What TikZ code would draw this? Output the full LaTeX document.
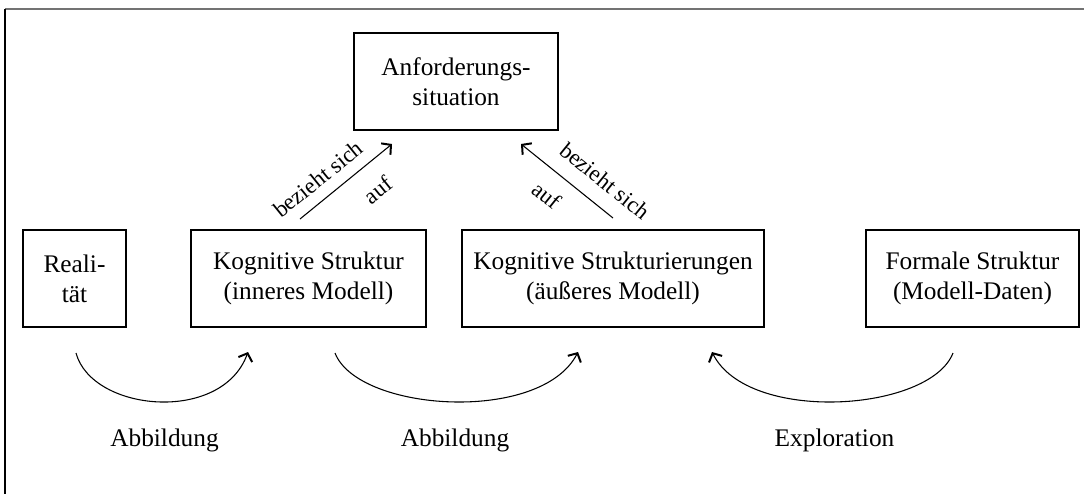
\documentclass[tikz,border=0pt]{standalone}
\usepackage{fontspec}
\setmainfont{Liberation Serif}
\usetikzlibrary{arrows.meta}
\newcommand{\boxfont}{\fontsize{19}{22.5}\selectfont}
\newcommand{\lblfont}{\fontsize{17}{20}\selectfont}
\begin{document}
\begin{tikzpicture}[x=0.75pt,y=-0.75pt,
  box/.style={draw, line width=0.9pt, inner sep=0pt, minimum height=72.75pt,
              align=center, font=\boxfont},
  conn/.style={line width=0.8pt, -{Straight Barb[length=5pt,width=11pt,line width=1.5pt]}},
  lbl/.style={inner sep=0pt, font=\lblfont},
  caption/.style={inner sep=0pt, anchor=base, font=\boxfont}]
\useasboundingbox (0,0) rectangle (1084,494);

% frame edges
\draw[line width=1.5pt, black!55] (5,9) -- (1084,9);
\draw[line width=1.2pt] (5,9) -- (5,494);

% boxes
\node[box, minimum width=153pt]    (anf)  at (456,81.5)   {Anforderungs-\\situation};
\node[box, minimum width=77.25pt]  (real) at (74.5,278.5) {Reali-\\tät};
\node[box, minimum width=176.25pt] (kog)  at (308.5,278.5){Kognitive Struktur\\(inneres Modell)};
\node[box, minimum width=226.5pt]  (kogs) at (613,278.5)  {Kognitive Strukturierungen\\(äußeres Modell)};
\node[box, minimum width=159.75pt] (form) at (972.5,278.5){Formale Struktur\\(Modell-Daten)};

% "bezieht sich auf" arrows
\coordinate (l1) at (300,219);
\coordinate (l2) at (392,144);
\coordinate (r1) at (613,218);
\coordinate (r2) at (521,144);
\draw[conn] (l1) -- (l2);
\draw[conn] (r1) -- (r2);
\node[lbl, rotate=39]  (lb1) at (318,179) {bezieht sich};
\node[lbl, rotate=39]  (la1) at (378,190) {auf};
\node[lbl, rotate=-39] (lb2) at (605,181) {bezieht sich};
\node[lbl, rotate=-39] (la2) at (547,195) {auf};

% curved arrows below the boxes
\coordinate (a1s) at (76,353);
\coordinate (a1e) at (248,352);
\coordinate (a2s) at (335,353);
\coordinate (a2e) at (578,352);
\coordinate (a3s) at (953,353);
\coordinate (a3e) at (712,352);
\draw[conn] (a1s) .. controls (92,412) and (222,424) .. (a1e);
\draw[conn] (a2s) .. controls (358,412) and (541,424) .. (a2e);
\draw[conn] (a3s) .. controls (930,412) and (748,424) .. (a3e);

\node[caption] (c1) at (164.5,446) {Abbildung};
\node[caption] (c2) at (455,446)   {Abbildung};
\node[caption] (c3) at (834.5,446) {Exploration};
\end{tikzpicture}
\end{document}
